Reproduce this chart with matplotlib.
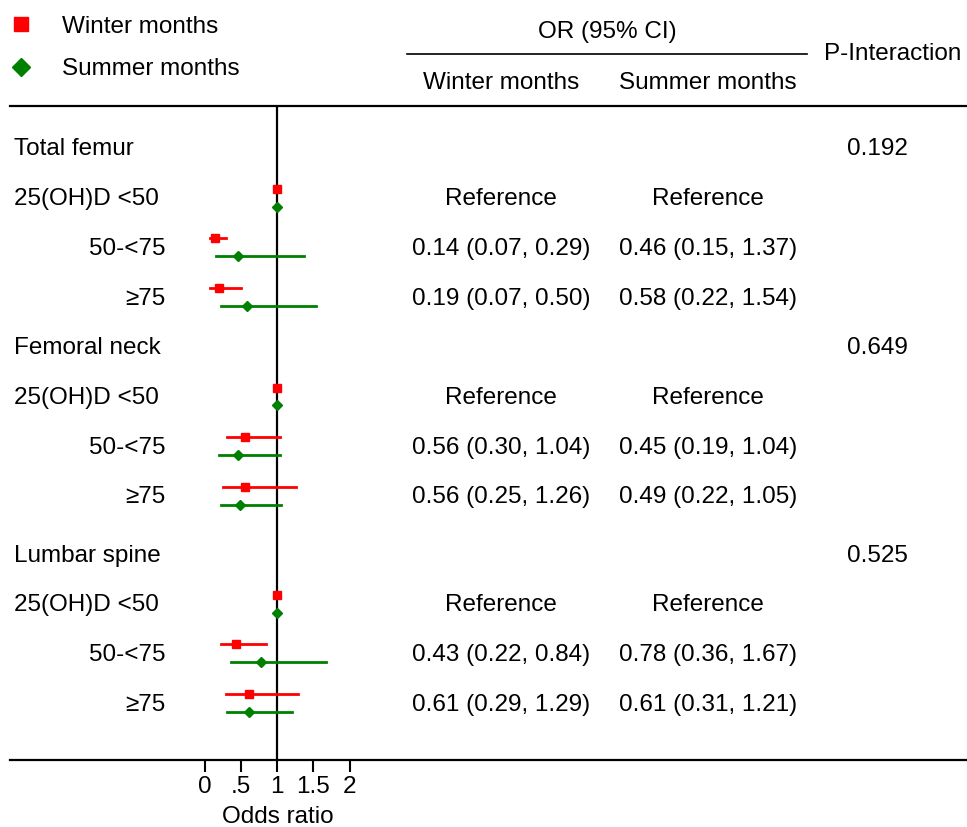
import matplotlib
matplotlib.use("Agg")
import matplotlib.pyplot as plt
from matplotlib.transforms import blended_transform_factory

plt.rcParams['font.family'] = ['Liberation Sans', 'DejaVu Sans']
plt.rcParams['font.size'] = 17.5

# Data
sections = ["Total femur", "Femoral neck", "Lumbar spine"]
p_interaction = ["0.192", "0.649", "0.525"]
levels = ["25(OH)D <50", "50-<75", "\u226575"]

winter_or = [[1.00, 0.14, 0.19], [1.00, 0.56, 0.56], [1.00, 0.43, 0.61]]
winter_lo = [[None, 0.07, 0.07], [None, 0.30, 0.25], [None, 0.22, 0.29]]
winter_hi = [[None, 0.29, 0.50], [None, 1.04, 1.26], [None, 0.84, 1.29]]

summer_or = [[1.00, 0.46, 0.58], [1.00, 0.45, 0.49], [1.00, 0.78, 0.61]]
summer_lo = [[None, 0.15, 0.22], [None, 0.19, 0.22], [None, 0.36, 0.31]]
summer_hi = [[None, 1.37, 1.54], [None, 1.04, 1.05], [None, 1.67, 1.21]]

x_ticks = [0, 0.5, 1, 1.5, 2]
x_tick_labels = ["0", ".5", "1", "1.5", "2"]

red = "#FF0000"
green = "#008000"

W, H = 967, 827
fig = plt.figure(figsize=(W / 100, H / 100), dpi=100)
ax = fig.add_axes([10 / W, (H - 760) / H, (W - 10) / W, (760 - 106) / H])

# x scale: 0 at px 205, 72.3 px per unit
px0, ppu = 205, 72.3
ax.set_xlim((10 - px0) / ppu, (W - px0) / ppu)
# y in row units: first row at px 146.5, 49.7 px per row
py0, ppr = 146.5, 49.7
ax.set_ylim((760 - py0) / ppr, (106 - py0) / ppr)

for s in ["left", "right"]:
    ax.spines[s].set_visible(False)
for s in ["top", "bottom"]:
    ax.spines[s].set_linewidth(1.6)
ax.set_yticks([])
ax.set_xticks(x_ticks)
ax.set_xticklabels(x_tick_labels)
ax.tick_params(axis="x", length=8.5, width=1.5, pad=3, labelsize=17.5)
ax.set_xlabel("Odds ratio")
ax.xaxis.set_label_coords((278 - 10) / (W - 10), -(806 - 760) / (760 - 106))

ax.axvline(1, color="black", lw=1.6, zorder=1)

col_tf = blended_transform_factory(fig.transFigure, ax.transData)
off_w, off_s = -0.15, 0.21
gaps = [0, 0, 0.17]
txt_dy = 0.06

row = 0
for i, name in enumerate(sections):
    row += gaps[i]
    ax.text(14 / W, row + txt_dy, name, transform=col_tf, ha="left", va="center")
    ax.text(908 / W, row + txt_dy, p_interaction[i], transform=col_tf, ha="right", va="center")
    for j, lev in enumerate(levels):
        y = row + 1 + j
        ty = y + txt_dy
        if j == 0:
            ax.text(14 / W, ty, lev, transform=col_tf, ha="left", va="center")
        else:
            ax.text(165 / W, ty, lev, transform=col_tf, ha="right", va="center")
        w, s = winter_or[i][j], summer_or[i][j]
        if winter_lo[i][j] is None:
            wt, st = "Reference", "Reference"
        else:
            ax.plot([winter_lo[i][j], winter_hi[i][j]], [y + off_w] * 2, color=red, lw=2, zorder=2)
            ax.plot([summer_lo[i][j], summer_hi[i][j]], [y + off_s] * 2, color=green, lw=2, zorder=2)
            wt = f"{w:.2f} ({winter_lo[i][j]:.2f}, {winter_hi[i][j]:.2f})"
            st = f"{s:.2f} ({summer_lo[i][j]:.2f}, {summer_hi[i][j]:.2f})"
        hw, = ax.plot(w, y + off_w, "s", color=red, ms=5.5, zorder=3, label="Winter months")
        hs, = ax.plot(s, y + off_s, "D", color=green, ms=5, zorder=3, label="Summer months")
        ax.text(501 / W, ty, wt, transform=col_tf, ha="center", va="center")
        ax.text(708 / W, ty, st, transform=col_tf, ha="center", va="center")
    row += 4

# header
fig.text(607 / W, 1 - 32 / H, "OR (95% CI)", ha="center", va="center")
fig.add_artist(plt.Line2D([407 / W, 807 / W], [1 - 54 / H] * 2, color="black", lw=1.2))
fig.text(501 / W, 1 - 83 / H, "Winter months", ha="center", va="center")
fig.text(708 / W, 1 - 83 / H, "Summer months", ha="center", va="center")
fig.text(893 / W, 1 - 54 / H, "P-Interaction", ha="center", va="center")

fig.legend(handles=[hw, hs], loc="upper left", bbox_to_anchor=(-8 / W, 1 - 1 / H),
           frameon=False, markerscale=1.9, handlelength=1.2, handletextpad=1.1,
           borderpad=0.1, labelspacing=0.85, fontsize=17.5)

fig.savefig("out.png", dpi=100)
